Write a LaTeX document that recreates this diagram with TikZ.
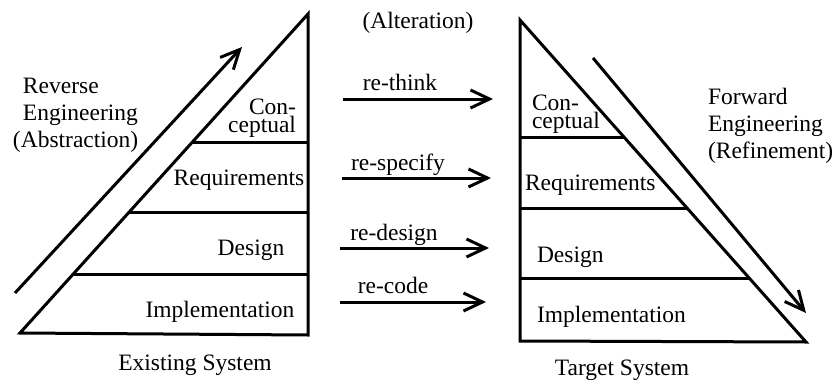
\documentclass[tikz,border=0pt]{standalone}
\usepackage{fontspec}
\setmainfont{Liberation Serif}
\usetikzlibrary{arrows.meta}
\begin{document}
\begin{tikzpicture}[x=1pt,y=-1pt,
  lbl/.style={inner sep=0pt,outer sep=0pt,font=\fontsize{23.5}{27}\selectfont},
  tight/.style={font=\fontsize{23.5}{17.5}\selectfont},
  edge/.style={line width=3pt,line join=miter},
  barb/.style={line width=3pt,-{Straight Barb[length=19pt,width=18pt,line width=3pt]}}]
\useasboundingbox (0,0) rectangle (838,380);
% left triangle
\coordinate (A1) at (308,14);
\coordinate (B1) at (20,333);
\coordinate (C1) at (308,335);
\draw[edge] (A1) -- (B1) -- (C1) -- cycle;
\coordinate (L1a) at (192,142); \coordinate (L1b) at (308,142);
\coordinate (L2a) at (129,212); \coordinate (L2b) at (308,212);
\coordinate (L3a) at (74,274);  \coordinate (L3b) at (308,274);
\draw[edge] (L1a) -- (L1b);
\draw[edge] (L2a) -- (L2b);
\draw[edge] (L3a) -- (L3b);
% right triangle
\coordinate (A2) at (520,20);
\coordinate (B2) at (520,341);
\coordinate (C2) at (806,342);
\draw[edge] (A2) -- (B2) -- (C2) -- cycle;
\coordinate (R1a) at (520,137); \coordinate (R1b) at (624,137);
\coordinate (R2a) at (520,208); \coordinate (R2b) at (687,208);
\coordinate (R3a) at (520,278); \coordinate (R3b) at (749,278);
\draw[edge] (R1a) -- (R1b);
\draw[edge] (R2a) -- (R2b);
\draw[edge] (R3a) -- (R3b);
% diagonal arrows
\coordinate (RevS) at (15,293); \coordinate (RevE) at (242,47);
\draw[barb] (RevS) -- (RevE);
\coordinate (FwdS) at (593,58); \coordinate (FwdE) at (806,313);
\draw[barb] (FwdS) -- (FwdE);
% middle arrows
\coordinate (M1s) at (343,99);  \coordinate (M1e) at (493,99);
\coordinate (M2s) at (342,178); \coordinate (M2e) at (491,178);
\coordinate (M3s) at (340,248); \coordinate (M3e) at (489,248);
\coordinate (M4s) at (340,302); \coordinate (M4e) at (486,302);
\draw[barb] (M1s) -- (M1e);
\draw[barb] (M2s) -- (M2e);
\draw[barb] (M3s) -- (M3e);
\draw[barb] (M4s) -- (M4e);
% labels
\node[lbl,anchor=base] (alt) at (418,28) {(Alteration)};
\node[lbl,anchor=base] (t1) at (400,90) {re-think};
\node[lbl,anchor=base] (t2) at (398,170) {re-specify};
\node[lbl,anchor=base] (t3) at (394,240) {re-design};
\node[lbl,anchor=base] (t4) at (393,293) {re-code};
% left texts
\node[lbl,anchor=base west,align=left] (rev) at (23,147) {Reverse\\Engineering\\\hspace*{-10pt}(Abstraction)};
\node[lbl,tight,anchor=base east,align=right] (lc) at (296,132) {Con-\\ceptual};
\node[lbl,anchor=base] (lr) at (239,185) {Requirements};
\node[lbl,anchor=base] (ld) at (251,255) {Design};
\node[lbl,anchor=base] (li) at (220,317) {Implementation};
\node[lbl,anchor=base] (les) at (195,370) {Existing System};
% right texts
\node[lbl,anchor=base west,align=left] (fwd) at (708,158) {Forward\\Engineering\\(Refinement)};
\node[lbl,tight,anchor=base west,align=left] (rc) at (532,128) {Con-\\ceptual};
\node[lbl,anchor=base west] (rr) at (525,190) {Requirements};
\node[lbl,anchor=base west] (rd) at (537,262) {Design};
\node[lbl,anchor=base west] (ri) at (537,322) {Implementation};
\node[lbl,anchor=base] (rts) at (622,375) {Target System};
\end{tikzpicture}
\end{document}
